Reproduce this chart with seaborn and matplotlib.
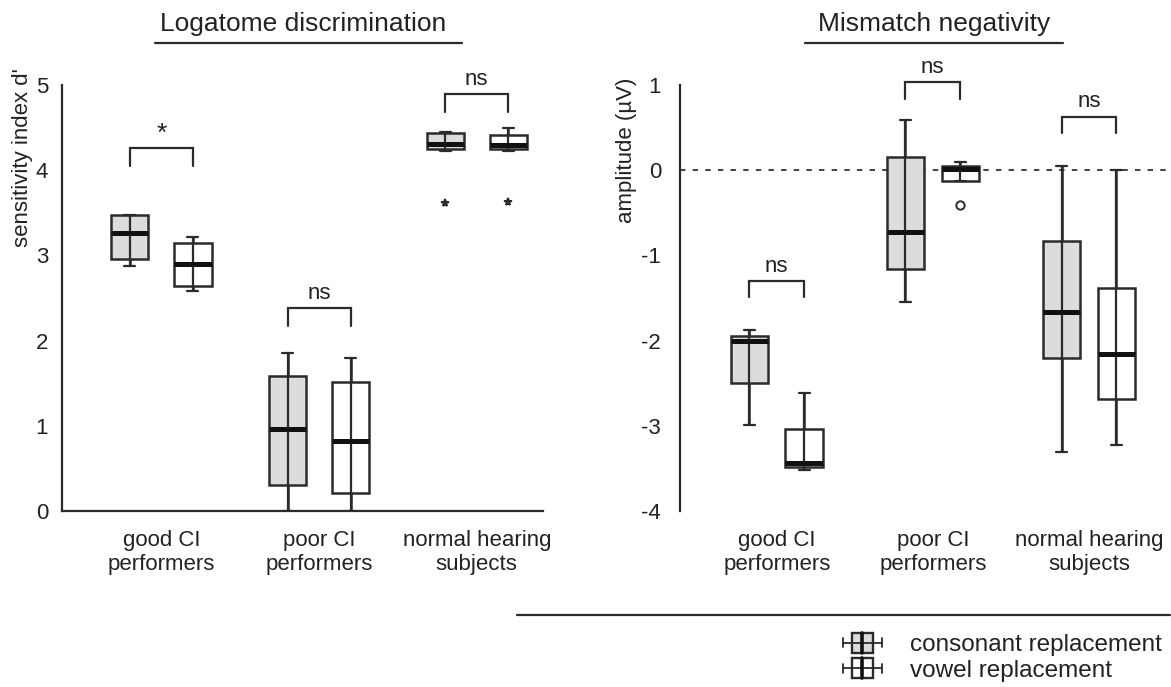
import numpy as np
import pandas as pd
import matplotlib
matplotlib.use("Agg")
import matplotlib.pyplot as plt
import seaborn as sns
from matplotlib.legend_handler import HandlerBase
from matplotlib.patches import Rectangle
from matplotlib.lines import Line2D

# ---------------- data ----------------
groups = ["good CI\nperformers", "poor CI\nperformers", "normal hearing\nsubjects"]
conditions = ["consonant replacement", "vowel replacement"]

# five-number summaries: [lower whisker, Q1, median, Q3, upper whisker]
dprime_consonant = [[2.87, 2.96, 3.26, 3.47, 3.48],
                    [0.00, 0.30, 0.96, 1.59, 1.85],
                    [4.23, 4.25, 4.31, 4.44, 4.45]]
dprime_vowel = [[2.58, 2.64, 2.90, 3.15, 3.22],
                [0.00, 0.21, 0.82, 1.51, 1.80],
                [4.22, 4.25, 4.29, 4.41, 4.50]]
dprime_outlier_group = ["normal hearing\nsubjects", "normal hearing\nsubjects"]
dprime_outlier_cond = ["consonant replacement", "vowel replacement"]
dprime_outlier_value = [3.61, 3.63]
dprime_sig = ["*", "ns", "ns"]
dprime_bracket_y = [4.26, 2.38, 4.89]

mmn_consonant = [[-2.99, -2.50, -2.01, -1.95, -1.88],
                 [-1.55, -1.16, -0.72, 0.15, 0.59],
                 [-3.31, -2.21, -1.66, -0.83, 0.05]]
mmn_vowel = [[-3.52, -3.48, -3.44, -3.04, -2.62],
             [-0.13, -0.13, 0.01, 0.05, 0.10],
             [-3.23, -2.69, -2.16, -1.38, 0.00]]
mmn_outlier_group = ["poor CI\nperformers"]
mmn_outlier_cond = ["vowel replacement"]
mmn_outlier_value = [-0.41]
mmn_sig = ["ns", "ns", "ns"]
mmn_bracket_y = [-1.30, 1.03, 0.63]

dprime_ticks = [0, 1, 2, 3, 4, 5]
mmn_ticks = [-4, -3, -2, -1, 0, 1]


def long_frame(cons, vow):
    rows = []
    for g, c5, v5 in zip(groups, cons, vow):
        for v in c5:
            rows.append((g, conditions[0], v))
        for v in v5:
            rows.append((g, conditions[1], v))
    return pd.DataFrame(rows, columns=["group", "condition", "value"])


df_d = long_frame(dprime_consonant, dprime_vowel)
df_m = long_frame(mmn_consonant, mmn_vowel)
out_d = pd.DataFrame({"group": dprime_outlier_group, "condition": dprime_outlier_cond,
                      "value": dprime_outlier_value})
out_m = pd.DataFrame({"group": mmn_outlier_group, "condition": mmn_outlier_cond,
                      "value": mmn_outlier_value})

# ---------------- style ----------------
sns.set_style("white")
plt.rcParams["font.family"] = ["Liberation Sans", "DejaVu Sans"]
plt.rcParams["axes.unicode_minus"] = False
TXT = "#222222"
LC = "#2b2b2b"
FILL = ["#dcdcdc", "#ffffff"]
plt.rcParams["text.color"] = TXT
plt.rcParams["axes.labelcolor"] = TXT
plt.rcParams["xtick.color"] = TXT
plt.rcParams["ytick.color"] = TXT

fig = plt.figure(figsize=(11.71, 6.87), dpi=100)
W, H = 1171, 687
axL = fig.add_axes([62 / W, 1 - 511 / H, 481 / W, 426 / H])
axR = fig.add_axes([680 / W, 1 - 511 / H, 490 / W, 426 / H])


def draw_panel(ax, df, out, width, gap, sig, br_y, leg, outmarker, outsize, outfill):
    dodge_amt = width / 2
    sns.boxplot(data=df, x="group", y="value", hue="condition", order=groups,
                hue_order=conditions, palette=FILL, whis=(0, 100), width=width,
                gap=gap, showcaps=False, showfliers=False, linewidth=1.8,
                linecolor=LC, medianprops=dict(linewidth=3.6, color="#111111", zorder=6),
                legend=False, ax=ax)
    # whisker line running through the box, with small caps
    sns.pointplot(data=df, x="group", y="value", hue="condition", order=groups,
                  hue_order=conditions, palette=[LC, LC], errorbar=("pi", 100),
                  estimator="median", dodge=dodge_amt, capsize=0.07,
                  marker="", markersize=0, linestyle="none",
                  err_kws=dict(linewidth=1.6, zorder=5), legend=False, ax=ax)
    sns.pointplot(data=out, x="group", y="value", hue="condition", order=groups,
                  hue_order=conditions, palette=[LC, LC], errorbar=None,
                  dodge=dodge_amt, marker=outmarker, markersize=outsize,
                  markerfacecolor=outfill, markeredgewidth=1.4,
                  linestyle="none", legend=False, ax=ax)
    off = dodge_amt / 2
    for i, (s, y) in enumerate(zip(sig, br_y)):
        ax.plot([i - off, i - off, i + off, i + off], [y - leg, y, y, y - leg],
                color=LC, lw=1.6, clip_on=False, solid_joinstyle="miter")
        if s == "*":
            ax.text(i, y + 0.03, s, ha="center", va="bottom", fontsize=19, color=TXT)
        else:
            ax.text(i, y + 0.05, s, ha="center", va="bottom", fontsize=16, color=TXT)


draw_panel(axL, df_d, out_d, 0.8, 0.41, dprime_sig, dprime_bracket_y, 0.21, "*", 5.5, LC)
draw_panel(axR, df_m, out_m, 0.7, 0.32, mmn_sig, mmn_bracket_y, 0.19, "o", 6, "none")

axR.axhline(0, color="#333333", lw=1.3, ls=(0, (3, 4)), zorder=0.5)

axL.set_xlim(-0.63, 2.42)
axL.set_ylim(0, 5)
axR.set_xlim(-0.62, 2.52)
axR.set_ylim(-4, 1)
axL.set_yticks(dprime_ticks)
axR.set_yticks(mmn_ticks)

for ax in (axL, axR):
    ax.set_xlabel("")
    ax.set_ylabel("")
    for sp in ax.spines.values():
        sp.set_color(LC)
        sp.set_linewidth(1.6)
    ax.spines["top"].set_visible(False)
    ax.spines["right"].set_visible(False)
    ax.tick_params(axis="y", direction="inout", length=9, width=1.5, labelsize=16)
    ax.tick_params(axis="x", length=0, labelsize=16, pad=14)
    for lab in ax.get_xticklabels():
        lab.set_linespacing(1.15)
axL.tick_params(axis="y", pad=5.5)
axR.tick_params(axis="y", pad=9)
axR.spines["bottom"].set_visible(False)

axL.text(-0.0815, 1.04, "sensitivity index d'", rotation=90, ha="center", va="top",
         fontsize=16, transform=axL.transAxes)
axR.text(-0.11, 1.018, "amplitude (\u00b5V)", rotation=90, ha="center", va="top",
         fontsize=16, transform=axR.transAxes)

# titles with underline
fig.text(303 / W, 1 - 24 / H, "Logatome discrimination", ha="center", va="center", fontsize=19)
fig.add_artist(Line2D([155 / W, 462 / W], [1 - 43 / H, 1 - 43 / H], color=LC, lw=1.6))
fig.text(934 / W, 1 - 24 / H, "Mismatch negativity", ha="center", va="center", fontsize=19)
fig.add_artist(Line2D([805 / W, 1063 / W], [1 - 43 / H, 1 - 43 / H], color=LC, lw=1.6))

# separator line above legend
fig.add_artist(Line2D([517 / W, 1170 / W], [1 - 615 / H, 1 - 615 / H], color=LC, lw=1.6))


class BoxIconHandler(HandlerBase):
    def create_artists(self, legend, orig_handle, xdescent, ydescent, width, height,
                       fontsize, trans):
        x0, y0 = -xdescent, -ydescent
        cy = y0 + height / 2
        bw, bh = width * 0.56, height * 1.1
        bx = x0 + (width - bw) / 2
        rect = Rectangle((bx, cy - bh / 2), bw, bh, facecolor=orig_handle.get_facecolor(),
                         edgecolor=LC, linewidth=1.7, transform=trans)
        wh = Line2D([x0, x0 + width], [cy, cy], color=LC, lw=1.3, transform=trans)
        c1 = Line2D([x0, x0], [cy - height * 0.25, cy + height * 0.25], color=LC, lw=1.3,
                    transform=trans)
        c2 = Line2D([x0 + width, x0 + width], [cy - height * 0.25, cy + height * 0.25],
                    color=LC, lw=1.3, transform=trans)
        md = Line2D([x0 + width / 2] * 2, [cy - bh / 2, cy + bh / 2], color="#111111", lw=2.6,
                    transform=trans)
        return [rect, wh, c1, c2, md]


handles = [Rectangle((0, 0), 1, 1, facecolor=FILL[0]), Rectangle((0, 0), 1, 1, facecolor=FILL[1])]
fig.legend(handles=handles, labels=conditions, handler_map={Rectangle: BoxIconHandler()},
           loc="upper left", bbox_to_anchor=(843 / W, 1 - 634 / H), frameon=False,
           fontsize=17.5, handlelength=1.6, handleheight=0.75, handletextpad=1.15,
           labelspacing=0.12, borderpad=0, borderaxespad=0)

fig.savefig("out.png", dpi=100)
